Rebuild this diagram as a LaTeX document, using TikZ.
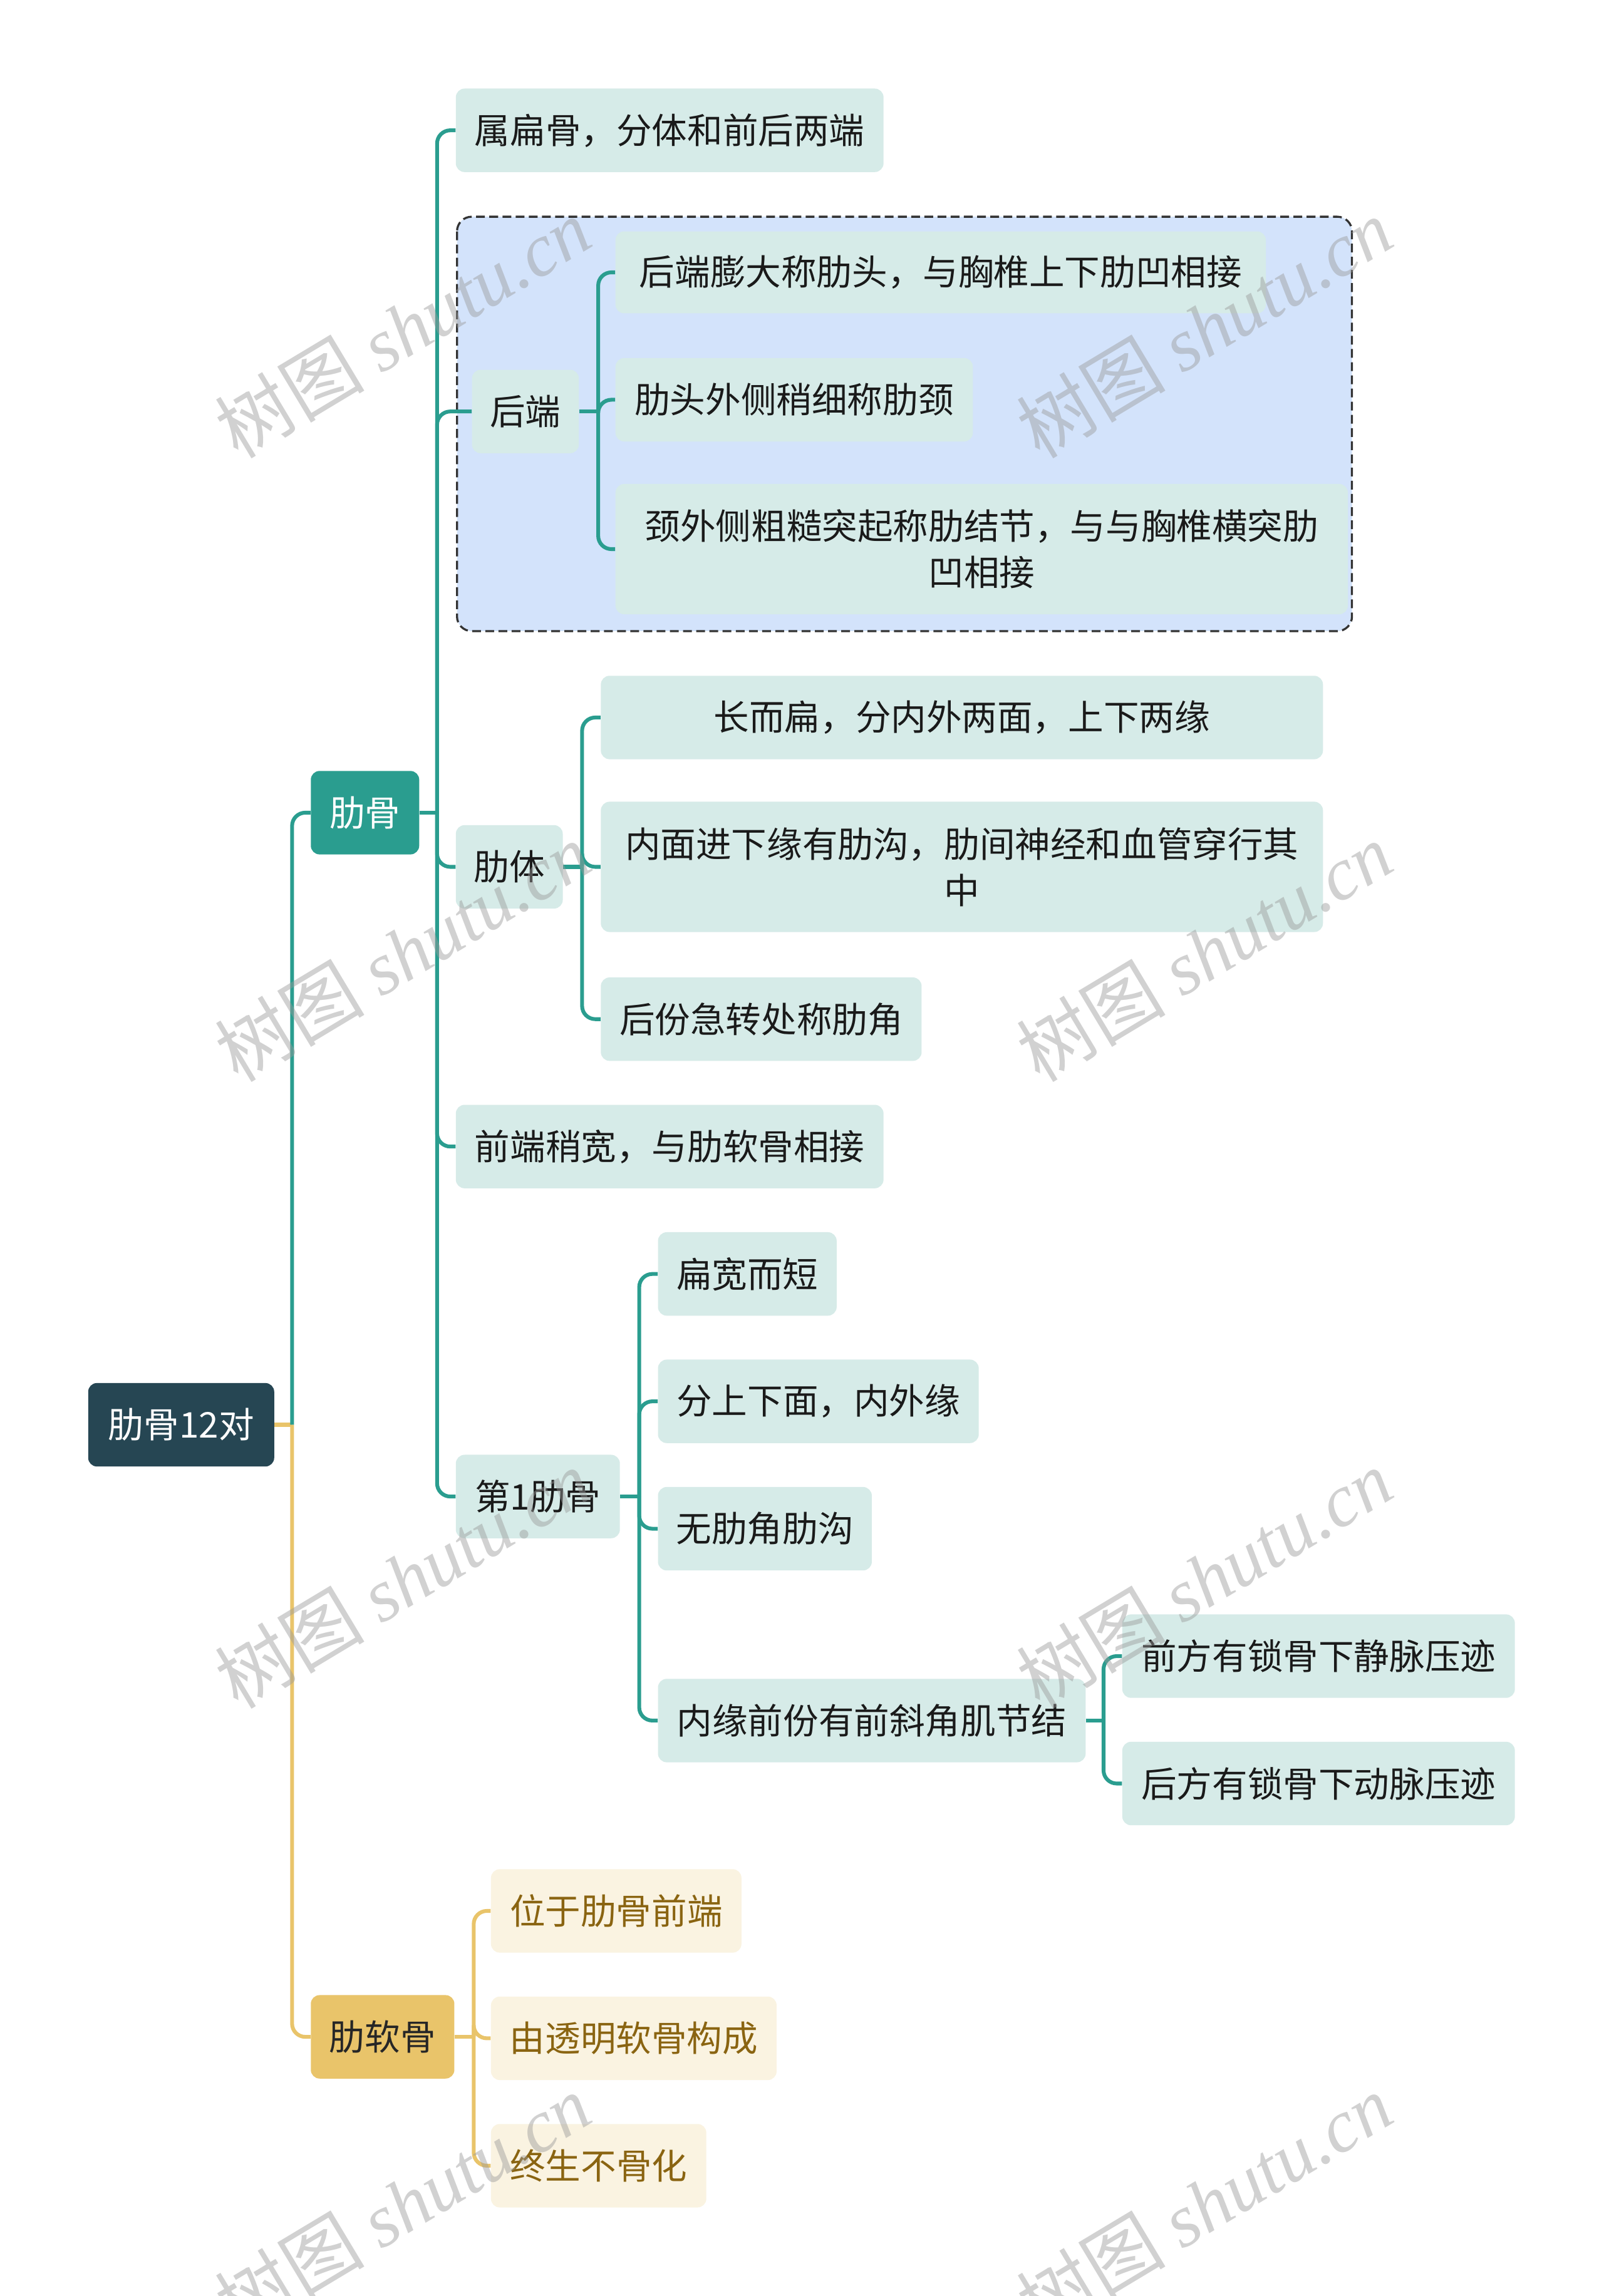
\documentclass[tikz,border=0pt]{standalone}
\usepackage{fontspec}
\setmainfont{Noto Sans CJK SC}
\newfontfamily\wmlatin{Liberation Serif}
\newfontfamily\wmcjk{Noto Sans CJK SC}
\definecolor{teal}{HTML}{2A9D8F}
\definecolor{rootc}{HTML}{264653}
\definecolor{yel}{HTML}{E9C46A}
\definecolor{lvfill}{HTML}{D6EBE8}
\definecolor{grpfill}{HTML}{D3E3FB}
\definecolor{crfill}{HTML}{FAF3E1}
\definecolor{crtext}{HTML}{8A6411}
\definecolor{lvtext}{HTML}{1A1A1A}
\definecolor{wmc}{HTML}{9A9A9A}
\tikzset{
  base/.style={rounded corners=6pt, inner sep=0pt, minimum height=57pt, anchor=west,
    font=\fontsize{24.2}{31.5}\selectfont, align=center},
  lv/.style={base, fill=lvfill, text=lvtext},
  cr/.style={base, fill=crfill, text=crtext},
  tl/.style={draw=teal, line width=2.6pt, rounded corners=9pt},
  yl/.style={draw=yel, line width=2.6pt, rounded corners=9pt},
  wm/.style={text=wmc, opacity=0.45, rotate=31, font=\fontsize{51}{51}\selectfont}
}
\begin{document}
\begin{tikzpicture}[x=1pt,y=-1pt]
\useasboundingbox (0,0) rectangle (1095,1568);
\fill[white] (0,0) rectangle (1095,1568);
% group box
\draw[fill=grpfill, draw=black!80, line width=1.4pt, dash pattern=on 6pt off 3pt, rounded corners=10pt] (312,148) rectangle (923,431);
% nodes
\node[base, fill=rootc, text=white, minimum width=127] (root) at (60,973) {肋骨12对};
\node[base, fill=teal, text=white, minimum width=74] (lg) at (212,555) {肋骨};
\node[base, fill=yel, text=black!85, minimum width=98] (lrg) at (212,1391) {肋软骨};

\node[lv, minimum width=292] (a1) at (311,89) {属扁骨，分体和前后两端};
\node[lv, minimum width=73] (hd) at (322,281) {后端};
\node[lv, minimum width=444, minimum height=56] (h1) at (420,186) {后端膨大称肋头，与胸椎上下肋凹相接};
\node[lv, minimum width=244] (h2) at (420,273) {肋头外侧稍细称肋颈};
\node[lv, minimum width=500, minimum height=89] (h3) at (420,375) {颈外侧粗糙突起称肋结节，与与胸椎横突肋\\凹相接};
\node[lv, minimum width=73] (lt) at (311,592) {肋体};
\node[lv, minimum width=493] (t1) at (410,490) {长而扁，分内外两面，上下两缘};
\node[lv, minimum width=493, minimum height=89] (t2) at (410,592) {内面进下缘有肋沟，肋间神经和血管穿行其\\中};
\node[lv, minimum width=219] (t3) at (410,696) {后份急转处称肋角};
\node[lv, minimum width=292] (qd) at (311,783) {前端稍宽，与肋软骨相接};
\node[lv, minimum width=112] (d1) at (311,1022) {第1肋骨};
\node[lv, minimum width=122] (f1) at (449,870) {扁宽而短};
\node[lv, minimum width=219] (f2) at (449,957) {分上下面，内外缘};
\node[lv, minimum width=146] (f3) at (449,1044) {无肋角肋沟};
\node[lv, minimum width=292] (f4) at (449,1175) {内缘前份有前斜角肌节结};
\node[lv, minimum width=268] (g1) at (766,1131) {前方有锁骨下静脉压迹};
\node[lv, minimum width=268] (g2) at (766,1218) {后方有锁骨下动脉压迹};
\node[cr, minimum width=171] (r1) at (335,1305) {位于肋骨前端};
\node[cr, minimum width=195] (r2) at (335,1392) {由透明软骨构成};
\node[cr, minimum width=147] (r3) at (335,1479) {终生不骨化};

% connectors
\coordinate (b0) at ([xshift=12pt]root.east);
\draw[yl] (root.east) -- (b0);
\draw[tl] (b0) |- (lg.west);
\draw[yl] (b0) |- (lrg.west);

\coordinate (b1) at ([xshift=12pt]lg.east);
\draw[tl] (lg.east) -- (b1);
\foreach \c in {a1,hd,lt,qd,d1} \draw[tl] (b1) |- (\c.west);

\coordinate (b2) at ([xshift=13pt]hd.east);
\draw[tl] (hd.east) -- (b2);
\foreach \c in {h1,h2,h3} \draw[tl] (b2) |- (\c.west);

\coordinate (b3) at ([xshift=13pt]lt.east);
\draw[tl] (lt.east) -- (b3);
\foreach \c in {t1,t2,t3} \draw[tl] (b3) |- (\c.west);

\coordinate (b4) at ([xshift=13pt]d1.east);
\draw[tl] (d1.east) -- (b4);
\foreach \c in {f1,f2,f3,f4} \draw[tl] (b4) |- (\c.west);

\coordinate (b5) at ([xshift=12pt]f4.east);
\draw[tl] (f4.east) -- (b5);
\foreach \c in {g1,g2} \draw[tl] (b5) |- (\c.west);

\coordinate (b6) at ([xshift=13pt]lrg.east);
\draw[yl] (lrg.east) -- (b6);
\foreach \c in {r1,r2,r3} \draw[yl] (b6) |- (\c.west);

% watermarks
\foreach \wx/\wy [count=\i] in {275/224,822/224,275/650,822/650,275/1078,822/1078,275/1505,822/1505}
  \node[wm] (wm\i) at (\wx,\wy) {\wmcjk 树图 \wmlatin\itshape shutu.cn};
\end{tikzpicture}
\end{document}
